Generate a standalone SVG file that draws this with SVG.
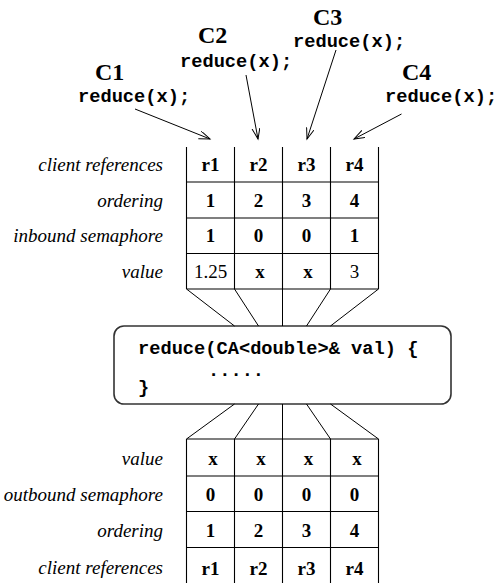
<svg xmlns="http://www.w3.org/2000/svg" width="500" height="583" viewBox="0 0 500 583">
  <style>
    .cap { font-family: "Liberation Serif", "Times New Roman", serif; font-weight: bold; font-size: 24px; fill: #000; }
    .code { font-family: "Liberation Mono", "Courier New", monospace; font-weight: bold; font-size: 18.7px; fill: #000; }
    .lbl { font-family: "Liberation Serif", "Times New Roman", serif; font-style: italic; font-size: 19px; fill: #000; text-anchor: end; }
    .cell { font-family: "Liberation Serif", "Times New Roman", serif; font-weight: bold; font-size: 19px; fill: #000; text-anchor: middle; }
    .num { font-family: "Liberation Serif", "Times New Roman", serif; font-size: 19px; fill: #000; text-anchor: middle; }
    .grid { stroke: #000; stroke-width: 1.1; fill: none; }
    .conn { stroke: #000; stroke-width: 1; fill: none; }
    .box { stroke: #333; stroke-width: 1.6; fill: #fff; }
  </style>
  <defs>
    <marker id="open" markerUnits="userSpaceOnUse" markerWidth="14" markerHeight="10" refX="11" refY="4" orient="auto">
      <path d="M0,0 L11,4 L0,8" fill="none" stroke="#000" stroke-width="1"/>
    </marker>
  </defs>

  <!-- clients -->
  <g id="client-c1">
    <text class="cap" x="95" y="80">C1</text>
    <text class="code" x="78" y="102">reduce(x);</text>
  </g>
  <g id="client-c2">
    <text class="cap" x="198" y="43">C2</text>
    <text class="code" x="180" y="67">reduce(x);</text>
  </g>
  <g id="client-c3">
    <text class="cap" x="313" y="25">C3</text>
    <text class="code" x="293" y="47">reduce(x);</text>
  </g>
  <g id="client-c4">
    <text class="cap" x="402" y="80">C4</text>
    <text class="code" x="385" y="102">reduce(x);</text>
  </g>

  <!-- inbound table -->
  <g id="inbound-table">
    <path class="grid" d="M186.5,147 V289 M234.5,147 V289 M282.5,147 V289 M330.5,147 V289 M378.5,147 V289
                         M186.5,182 H378.5 M186.5,218 H378.5 M186.5,253.5 H378.5 M186.5,289 H378.5"/>
    <text class="lbl" x="163" y="171">client references</text>
    <text class="lbl" x="163" y="207">ordering</text>
    <text class="lbl" x="163" y="242">inbound semaphore</text>
    <text class="lbl" x="163" y="278">value</text>
    <text class="cell" x="210.5" y="171">r1</text>
    <text class="cell" x="258.5" y="171">r2</text>
    <text class="cell" x="306.5" y="171">r3</text>
    <text class="cell" x="354.5" y="171">r4</text>
    <text class="cell" x="210.5" y="207">1</text>
    <text class="cell" x="258.5" y="207">2</text>
    <text class="cell" x="306.5" y="207">3</text>
    <text class="cell" x="354.5" y="207">4</text>
    <text class="cell" x="210.5" y="242">1</text>
    <text class="cell" x="258.5" y="242">0</text>
    <text class="cell" x="306.5" y="242">0</text>
    <text class="cell" x="354.5" y="242">1</text>
    <text class="num" x="210.5" y="278">1.25</text>
    <text class="cell" x="260" y="278">x</text>
    <text class="cell" x="308" y="278">x</text>
    <text class="num" x="354.5" y="278">3</text>
  </g>

  <!-- reduction body -->
  <g id="reduce-body">
    <rect class="box" x="114" y="326" width="337" height="78" rx="10" ry="10"/>
    <text class="code" x="138" y="354">reduce(CA&lt;double&gt;&amp; val) {</text>
    <text class="code" x="208" y="376">.....</text>
    <text class="code" x="138" y="393">}</text>
  </g>

  <!-- outbound table -->
  <g id="outbound-table">
    <path class="grid" d="M186.5,439 V583 M234.5,439 V583 M282.5,439 V583 M330.5,439 V583 M378.5,439 V583
                         M186.5,439 H378.5 M186.5,476 H378.5 M186.5,511.5 H378.5 M186.5,547.5 H378.5"/>
    <text class="lbl" x="163" y="465">value</text>
    <text class="lbl" x="163" y="501">outbound semaphore</text>
    <text class="lbl" x="163" y="537">ordering</text>
    <text class="lbl" x="163" y="574">client references</text>
    <text class="cell" x="213" y="465">x</text>
    <text class="cell" x="261" y="465">x</text>
    <text class="cell" x="308.5" y="465">x</text>
    <text class="cell" x="357" y="465">x</text>
    <text class="cell" x="210.5" y="501">0</text>
    <text class="cell" x="258.5" y="501">0</text>
    <text class="cell" x="306.5" y="501">0</text>
    <text class="cell" x="354.5" y="501">0</text>
    <text class="cell" x="210.5" y="537">1</text>
    <text class="cell" x="258.5" y="537">2</text>
    <text class="cell" x="306.5" y="537">3</text>
    <text class="cell" x="354.5" y="537">4</text>
    <text class="cell" x="210.5" y="575">r1</text>
    <text class="cell" x="258.5" y="575">r2</text>
    <text class="cell" x="306.5" y="575">r3</text>
    <text class="cell" x="354.5" y="575">r4</text>
  </g>

  <!-- connectors -->
  <g id="connectors">
    <line class="conn" x1="135" y1="109" x2="210" y2="139" marker-end="url(#open)"/>
    <line class="conn" x1="246" y1="75" x2="258" y2="139" marker-end="url(#open)"/>
    <line class="conn" x1="336" y1="50" x2="307" y2="139" marker-end="url(#open)"/>
    <line class="conn" x1="401.5" y1="114" x2="354" y2="139" marker-end="url(#open)"/>

    <path class="conn" d="M186.5,289 L234.5,326 M234.5,289 L258.5,326 M282.5,289 L282.5,326 M330.5,289 L306.5,326 M378.5,289 L330.5,326"/>
    <path class="conn" d="M234.5,404 L186.5,439 M258.5,404 L234.5,439 M282.5,404 L282.5,439 M306.5,404 L330.5,439 M330.5,404 L378.5,439"/>
  </g>
</svg>
